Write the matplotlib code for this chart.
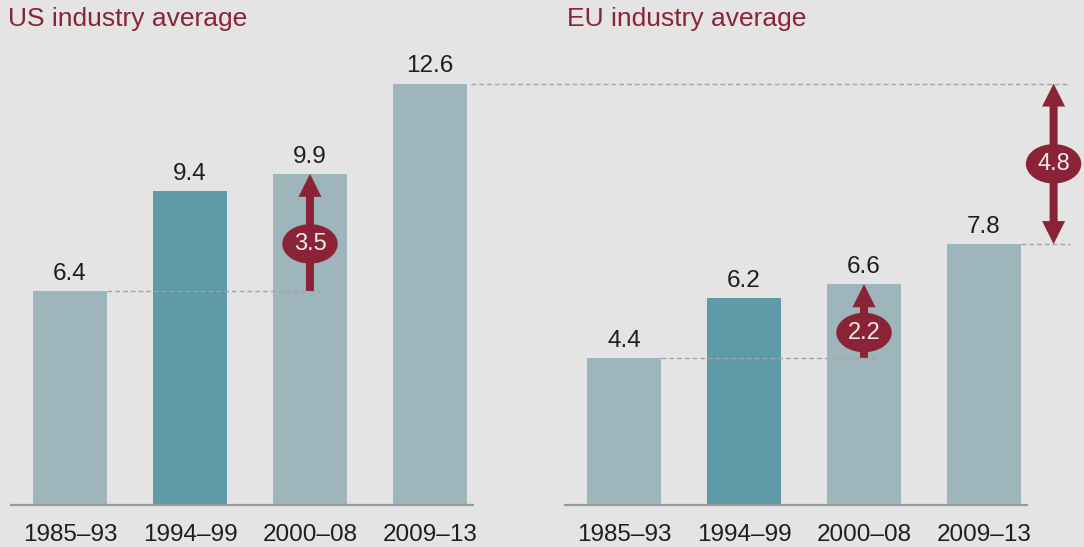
"""Industry average by period — US vs EU, with gap arrows."""
import matplotlib
matplotlib.use("Agg")
import matplotlib.pyplot as plt
from matplotlib.patches import Ellipse

periods = ["1985–93", "1994–99", "2000–08", "2009–13"]
us_vals = [6.4, 9.4, 9.9, 12.6]
eu_vals = [4.4, 6.2, 6.6, 7.8]
highlight = [False, True, False, False]

BG = "#E3E4E3"
LIGHT = "#9EB5BC"
DARK = "#5F9AA9"
MAROON = "#8B2337"
TXT = "#1E1E1E"
DASH = "#A2A4A4"

plt.rcParams["font.family"] = ["Liberation Sans", "DejaVu Sans"]

fig = plt.figure(figsize=(10.84, 5.47), dpi=100, facecolor=BG)
ax = fig.add_axes([0, 0, 1, 1], facecolor=BG)
# one slot = 120 px, one unit = 33.45 px, baseline at 505 px from top
ax.set_xlim(-70 / 120, 1014 / 120)
ax.set_ylim(-42 / 33.45, 505 / 33.45)
ax.axis("off")

W = 74 / 120          # bar width in slots
OFF = 554 / 120       # x offset of the EU panel
HEAD = 23 / 33.45     # arrow head length (y units)


def panel(x0, vals):
    xs = [x0 + i for i in range(len(vals))]
    cols = [DARK if h else LIGHT for h in highlight]
    ax.bar(xs, vals, width=W, color=cols, zorder=2)
    ax.hlines(0, x0 - 0.5, x0 + 3.37, color="#999999", lw=1.6, zorder=3)
    for x, v, lab in zip(xs, vals, periods):
        ax.text(x, v + 0.33, f"{v:.1f}", ha="center", va="baseline",
                fontsize=17.5, color=TXT)
        ax.text(x, -1.08, lab, ha="center", va="baseline", fontsize=17.5, color=TXT)
    return xs


def up_arrow(x, y0, y1):
    ax.arrow(x, y0, 0, y1 - y0, width=8 / 120, head_width=23 / 120,
             head_length=HEAD, length_includes_head=True, color=MAROON,
             lw=0, zorder=5)


def badge(x, y, txt):
    ax.add_patch(Ellipse((x, y), 54 / 120, 38 / 33.45, color=MAROON, zorder=6))
    ax.text(x, y, txt, ha="center", va="center", fontsize=17, color="#EDEDED",
            zorder=7)


def dashed(x0, x1, y):
    ax.plot([x0, x1], [y, y], color=DASH, lw=1, ls=(0, (3.4, 2.2)), zorder=4)


us_x = panel(0, us_vals)
eu_x = panel(OFF, eu_vals)

# US: 1985-93 -> 2000-08
d = us_vals[2] - us_vals[0]
dashed(us_x[0] + W / 2, us_x[2] + 0.1, us_vals[0])
up_arrow(us_x[2], us_vals[0], us_vals[2])
badge(us_x[2], us_vals[0] + (d - HEAD) / 2, f"{d:.1f}")

# EU: 1985-93 -> 2000-08
d = eu_vals[2] - eu_vals[0]
dashed(eu_x[0] + W / 2, eu_x[2] + 0.1, eu_vals[0])
up_arrow(eu_x[2], eu_vals[0], eu_vals[2])
badge(eu_x[2], eu_vals[0] + (d - HEAD) / 2, f"{d:.1f}")

# US vs EU gap in 2009-13
xg = eu_x[3] + 0.58
lo, hi = eu_vals[3], us_vals[3]
dashed(us_x[3] + W / 2 + 0.03, xg + 0.14, hi)
dashed(eu_x[3] + W / 2, xg + 0.14, lo)
mid = (lo + hi) / 2
up_arrow(xg, mid, hi)
up_arrow(xg, mid, lo)
badge(xg, mid, f"{hi - lo:.1f}")

fig.text(8 / 1084, 1 - 26 / 547, "US industry average", fontsize=19,
         color=MAROON, va="baseline")
fig.text(567 / 1084, 1 - 26 / 547, "EU industry average", fontsize=19,
         color=MAROON, va="baseline")

fig.savefig("out.png", dpi=100, facecolor=BG)
